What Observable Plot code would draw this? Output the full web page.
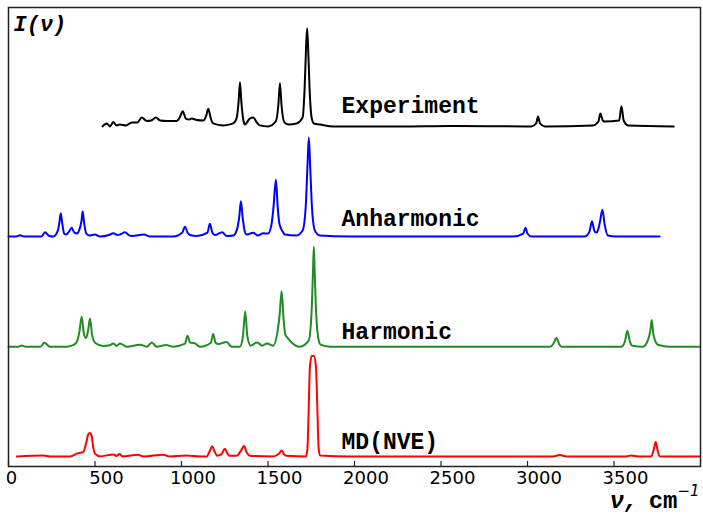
<!DOCTYPE html>
<html><head><meta charset="utf-8">
<script src="https://cdn.jsdelivr.net/npm/d3@7"></script>
<script src="https://cdn.jsdelivr.net/npm/@observablehq/plot@0.6"></script>
<style>body{margin:0;background:#fff} #chart svg{display:block}</style>
</head><body><div id="chart"></div>
<script>
// spectra: [wavenumber cm^-1, relative intensity %]
const experiment = [[544,0],[568,3],[587,0],[606,4.5],[625,1],[644,2],[679,1],[714,4],[745,4],[770,9],[799,5.5],[825,6],[852,9],[876,6],[914,5.5],[972,5.5],[990,9],[1007,15.5],[1025,8],[1045,7],[1059,8],[1088,6.5],[1126,6],[1143,11],[1155,18],[1168,9],[1183,3],[1241,1],[1299,3],[1318,8],[1330,25],[1338,45],[1346,25],[1358,6],[1366,2],[1395,8],[1415,9],[1435,4],[1453,1],[1501,0],[1545,5],[1560,22],[1569,44],[1578,22],[1595,4],[1620,2],[1665,3],[1700,9],[1712,40],[1720,80],[1726,100],[1732,80],[1740,40],[1752,9],[1765,3],[1800,2],[1877,0],[2262,0],[2551,0.5],[3023,0],[3050,3],[3061,10],[3072,3],[3100,0],[3379,1],[3410,5],[3421,13],[3435,6],[3446,5],[3530,6],[3543,20.5],[3556,6],[3581,1],[3845,0]];
const anharmonic = [[0,0],[45,0],[67,1.3],[90,0],[190,0],[211,4.3],[235,0.5],[259,0],[285,6],[294,14],[302,23.5],[310,14],[322,3],[332,2],[350,5],[365,8.8],[380,4],[394,3],[415,10],[422,16],[429,25.5],[436,15],[450,3],[470,1],[500,2],[529,0],[580,1.5],[606,3.3],[629,1.5],[650,2.5],[673,4.3],[695,1.5],[712,0.5],[783,2],[820,0],[952,0],[1005,4],[1020,10],[1035,4],[1049,1.5],[1088,0.5],[1150,4],[1164,13],[1178,4],[1193,1.5],[1235,4.3],[1261,0.5],[1299,1],[1322,8],[1334,20],[1343.5,35.5],[1353,20],[1366,5],[1376,2],[1414,3.7],[1443,1],[1472,3.3],[1500,3],[1520,12],[1532,30],[1545.6,57.4],[1556,30],[1565,14],[1573,9],[1585,5],[1598,2],[1665,1],[1700,6],[1718,30],[1728,70],[1736,100],[1744,70],[1754,30],[1771,6],[1800,1],[1973,0],[2916,0],[2975,3],[2988,8.8],[3000,3],[3023,0],[3330,0],[3358,5],[3373,15.4],[3386,6],[3398,4],[3410,8],[3420,16],[3433,27],[3446,12],[3465,1],[3514,0],[3764,0]];
const harmonic = [[0,0],[55,0],[76.5,1.3],[100,0],[185,0],[207,4],[240,0],[336,0],[380,2],[398,6],[410,15],[423,30],[435,14],[448,8.7],[460,16],[471,28.3],[483,12],[500,4],[548,0.7],[585,1.5],[606,3.3],[625,0.7],[644,3.3],[683,0],[760,2],[799,0],[829,4.3],[856,0],[910,1.7],[952,0],[1020,3],[1035,11],[1050,4],[1059,4],[1078,3.3],[1107,0],[1170,4],[1183,12.7],[1197,4],[1212,2.7],[1261,4.7],[1290,0],[1338,0],[1355,10],[1368,35.3],[1381,10],[1400,1],[1438,4.3],[1466,1],[1495,3.3],[1530,1],[1555,15],[1568,33],[1578.6,55.3],[1590,28],[1600,12],[1611,9.3],[1636,4.3],[1684,0],[1735,6],[1752,35],[1760,75],[1765,100],[1770,75],[1778,35],[1795,5],[1804,2],[1858,0],[2000,0],[3129,0],[3150,3],[3167,8.7],[3185,2],[3196,0],[3543,0],[3563,5],[3577,16],[3592,5],[3606,1],[3668,0],[3695,6],[3710,16],[3718,26.7],[3728,12],[3754,2],[3822,0],[3995,0]];
const mdNve = [[48,0],[201,1],[240,0],[356,0],[403.5,3.3],[432,4.3],[450,14],[460,21.5],[471,23.3],[480,21],[490,9],[500,2.7],[529,0],[606,2],[625,0.5],[640,2.3],[660,0],[750,1.7],[780,0],[895,1.7],[930,0],[1030,1],[1107,0],[1145,0],[1165,6],[1178,10],[1191,5],[1206,0.7],[1230,2],[1251,7.7],[1265,3],[1276,0.7],[1319,0.7],[1345,6],[1361,10.3],[1377,4],[1395,0.7],[1530,0],[1565,3],[1579,6],[1593,2],[1607,0.7],[1720,0],[1728,8],[1735,45],[1742,88],[1752,100],[1765,100],[1777,90],[1785,50],[1792,10],[1800,1],[1973,0],[3148,0],[3186,1.3],[3225,0],[3572,0],[3600,1],[3640,0],[3716,0],[3730,7],[3741,14.3],[3752,6],[3764,0],[3995,0]];

const seriesNames = ["Experiment", "Anharmonic", "Harmonic", "MD(NVE)"];
const seriesColors = ["#000000", "#0000ff", "#228b22", "#ff0000"];
const seriesOffsets = [74.1, 50.1, 26.1, 2.2];
const seriesScale = [0.214, 0.216, 0.218, 0.2185];
const labelX = [1925, 1925, 1925, 1925];
const labelY = [77.05, 52.3, 27.7, 3.85];
const xTicks = [0, 500, 1000, 1500, 2000, 2500, 3000, 3500];

const rows = [];
[experiment, anharmonic, harmonic, mdNve].forEach((s, i) =>
  s.forEach(([nu, I]) => rows.push({series: seriesNames[i], nu, y: seriesOffsets[i] + I * seriesScale[i]})));

const mono = "'Liberation Mono', 'Courier New', monospace";
const plot = Plot.plot({
  width: 703, height: 514,
  marginLeft: 8, marginRight: 3, marginTop: 7, marginBottom: 48,
  x: {domain: [0, 4000]},
  y: {domain: [0, 100], axis: null},
  color: {domain: seriesNames, range: seriesColors},
  style: {background: "#fff", color: "#000"},
  marks: [
    Plot.line(rows, {x: "nu", y: "y", z: "series", stroke: "series", strokeWidth: 2, curve: "monotone-x", strokeLinejoin: "round"}),
    Plot.text(seriesNames, {x: (d, i) => labelX[i], y: (d, i) => labelY[i], text: d => d, textAnchor: "start", lineAnchor: "bottom", fontFamily: mono, fontWeight: "bold", fontSize: 23, fill: "#000"}),
    Plot.tickX(xTicks, {x: d => d, insetTop: 454, stroke: "#222", strokeWidth: 1.2}),
    Plot.axisX([0], {tickSize: 0, tickPadding: 5, dx: 3, fontSize: 18, fontFamily: "DejaVu Sans", tickFormat: d => String(d), label: null}),
    Plot.axisX(xTicks.slice(1), {tickSize: 0, tickPadding: 5, dx: 11.5, fontSize: 18, fontFamily: "DejaVu Sans", tickFormat: d => String(d), label: null}),
    Plot.frame({stroke: "#222", strokeWidth: 1.5}),
    Plot.text(["I(ν)"], {frameAnchor: "top-left", text: d => d, textAnchor: "start", lineAnchor: "bottom", dx: 5, dy: 23, fontFamily: mono, fontWeight: "bold", fontStyle: "italic", fontSize: 22, fill: "#000"}),
    Plot.text(["ν,"], {frameAnchor: "bottom-right", text: d => d, textAnchor: "end", lineAnchor: "bottom", dx: -62, dy: 41, fontFamily: mono, fontWeight: "bold", fontStyle: "italic", fontSize: 24, fill: "#000"}),
    Plot.text(["cm"], {frameAnchor: "bottom-right", text: d => d, textAnchor: "end", lineAnchor: "bottom", dx: -23, dy: 41, fontFamily: mono, fontWeight: "bold", fontSize: 24, fill: "#000"}),
    Plot.text(["−1"], {frameAnchor: "bottom-right", text: d => d, textAnchor: "end", lineAnchor: "bottom", dx: -1, dy: 29, fontFamily: "DejaVu Sans", fontStyle: "italic", fontSize: 15, fill: "#000"})
  ]
});
document.getElementById("chart").append(plot);
</script>
</body></html>
